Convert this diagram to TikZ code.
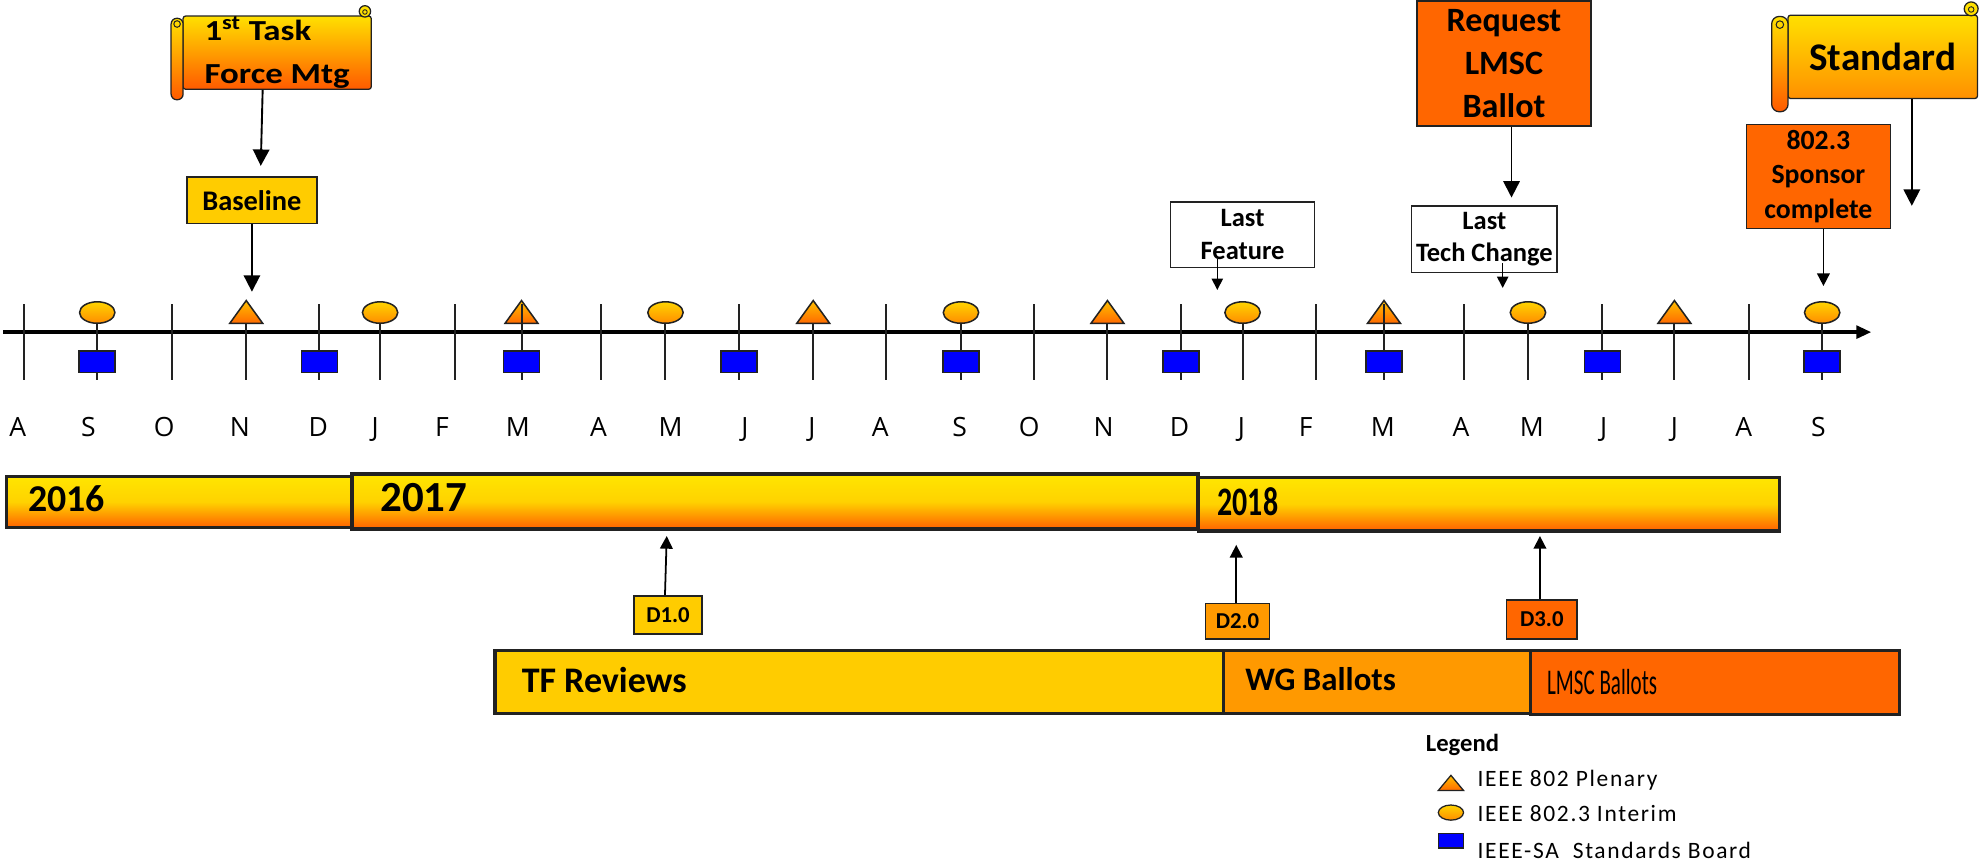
\documentclass[tikz,border=0pt]{standalone}
\usepackage{fontspec}
\usepackage{graphicx}
\setmainfont{Carlito}
\newfontfamily\monthfont{Open Sans}
\newfontfamily\legfont[LetterSpace=7]{Carlito}
\usetikzlibrary{arrows.meta}
\definecolor{gold}{HTML}{FFCC00}
\definecolor{orng}{HTML}{FF9900}
\definecolor{dorng}{HTML}{FF6600}
\definecolor{sqblue}{HTML}{0000FF}
\definecolor{edge}{HTML}{222222}
\definecolor{yelA}{HTML}{FFE600}
\definecolor{yelB}{HTML}{FFD200}
\definecolor{orA}{HTML}{FF6000}
\definecolor{circTop}{HTML}{FFD400}
\definecolor{circBot}{HTML}{FF8C00}
\definecolor{triTop}{HTML}{FFC000}
\definecolor{triBot}{HTML}{FF6A00}
\definecolor{scrTop}{HTML}{FFE000}
\definecolor{scrBotA}{HTML}{FF5A00}
\definecolor{scrBotB}{HTML}{FF9000}
\tikzset{
  fbox/.style={draw=edge, line width=1.3pt, inner sep=0pt, align=center},
  barbox/.style={draw=edge, line width=2.4pt, inner sep=0pt},
  ybar/.style={barbox, top color=yelA, bottom color=orA, middle color=yelB},
  bigarr/.style={line width=1.5pt, -{Triangle[length=13pt,width=13pt]}},
  midarr/.style={line width=1.4pt, -{Triangle[length=10pt,width=10pt]}},
  smlarr/.style={line width=1.2pt, -{Triangle[length=9pt,width=9pt]}},
  tickln/.style={line width=1.6pt, draw=edge},
  circsym/.style={draw=edge, line width=1.2pt, top color=circTop, bottom color=circBot},
  trisym/.style={draw=edge, line width=1.2pt, top color=triTop, bottom color=triBot},
  sqsym/.style={draw=edge, line width=1.4pt, fill=sqblue},
  txt/.style={inner sep=0pt},
}
\begin{document}
\begin{tikzpicture}[x=1pt,y=-1pt]
\useasboundingbox (0,0) rectangle (1568,683);

% ---------- timeline axis ----------
\coordinate (axL) at (2.6,263);
\coordinate (axR) at (1482,263);
\draw[line width=3pt, -{Triangle[length=12pt,width=10pt]}] (axL) -- (axR);

\foreach \x in {19,77,136,195,253,301,360,413,476,527,585,644,702,761,819,877,935,984,1042,1096,1159,1210,1269,1326,1385,1443}
  \draw[tickln] (\x,241) -- (\x,301);

% squares
\foreach \x in {77,253,413,585,761,935,1096,1269,1443}
  \draw[sqsym] (\x-14.25,278) rectangle (\x+14.25,295);
% circles
\foreach \x in {77,301,527,761,984,1210,1443}
  \shadedraw[circsym] (\x,247.5) ellipse (14pt and 8.5pt);
% triangles
\foreach \x in {195,413,644,877,1096,1326}
  \shadedraw[trisym] (\x-13,256) -- (\x,238) -- (\x+13,256) -- cycle;
% stems visible through the March triangles
\foreach \x in {413,1096}
  \draw[tickln] (\x,241) -- (\x,263);

% month labels
\foreach \x/\m [count=\i] in {14/A,70/S,130/O,190/N,252/D,297/J,350/F,410/M,474/A,531/M,590/J,643/J,697/A,760/S,815/O,874/N,934/D,983/J,1034/F,1095/M,1157/A,1213/M,1270/J,1326/J,1381/A,1440/S}
  \node[txt, anchor=base, font=\monthfont\fontsize{21}{21}\selectfont] (m\i) at (\x,345.5) {\m};

% ---------- year bars ----------
\node[ybar, minimum width=274pt, minimum height=41pt] (y16) at (142,397.5) {};
\node[ybar, minimum width=670pt, minimum height=43.5pt, line width=3pt] (y17) at (614,397.25) {};
\node[ybar, minimum width=460pt, minimum height=42.5pt] (y18) at (1179,399.25) {};
\node[txt, anchor=base west, font=\fontsize{30}{30}\selectfont\bfseries] (t16) at (22,405.3) {2016};
\node[txt, anchor=base west, font=\fontsize{34}{34}\selectfont\bfseries] (t17) at (301,405) {2017};
\node[txt, anchor=base west, font=\fontsize{32}{32}\selectfont\bfseries] (t18) at (964,408.6) {\scalebox{0.74}[1]{2018}};

% ---------- phase bars ----------
\node[barbox, fill=gold, minimum width=577pt, minimum height=50pt] (tf) at (680.5,540) {};
\node[barbox, fill=orng, minimum width=243pt, minimum height=50pt] (wg) at (1090.5,540) {};
\node[barbox, fill=dorng, minimum width=292pt, minimum height=50.5pt] (lm) at (1358,540.75) {};
\node[txt, anchor=base west, font=\fontsize{28.5}{28.5}\selectfont\bfseries] (ttf) at (413,548) {TF Reviews};
\node[txt, anchor=base west, font=\fontsize{26}{26}\selectfont\bfseries] (twg) at (986,546.5) {WG Ballots};
\node[txt, anchor=base west, font=\fontsize{28.7}{28.7}\selectfont] (tlm) at (1225,550) {\scalebox{0.58}[1]{LMSC Ballots}};

% ---------- draft boxes ----------
\node[fbox, fill=gold, minimum width=54pt, minimum height=30pt, font=\fontsize{18}{18}\selectfont\bfseries] (d1) at (529,487) {D1.0};
\node[fbox, fill=orng, minimum width=50.5pt, minimum height=28pt, font=\fontsize{18}{18}\selectfont\bfseries] (d2) at (980,492) {D2.0};
\node[fbox, fill=dorng, minimum width=56pt, minimum height=31pt, font=\fontsize{18}{18}\selectfont\bfseries] (d3) at (1221,490.5) {D3.0};
\coordinate (d1Tip) at (528,424.5);
\coordinate (d2Tip) at (979,431.5);
\coordinate (d3Tip) at (1219.5,424.5);
\draw[midarr] ([xshift=-2.4pt]d1.north) -- (d1Tip);
\draw[midarr] ([xshift=-1pt]d2.north) -- (d2Tip);
\draw[midarr] ([xshift=-1.5pt]d3.north) -- (d3Tip);

% ---------- 1st Task Force scroll ----------
\node[draw=edge, line width=1pt, rounded corners=2pt, top color=scrTop, bottom color=scrBotA,
      minimum width=149pt, minimum height=58pt, inner sep=0pt, align=left,
      font=\fontsize{23}{34}\selectfont\bfseries] (task) at (219.5,41.7)
  {\scalebox{1.2}[1]{1\textsuperscript{st} Task}\\\scalebox{1.2}[1]{Force Mtg}};
\shadedraw[draw=edge, line width=1pt, top color=scrTop, bottom color=scrBotA, rounded corners=4.5pt]
  (135.5,14.5) rectangle (145,79);
\draw[edge, line width=0.8pt] (140.25,19) circle (2.6pt);
\filldraw[fill=scrTop, draw=edge, line width=1pt] (289,9) circle (4.5pt);
\draw[edge, line width=0.7pt] (289,9.5) circle (1.8pt);

% Baseline
\node[fbox, fill=gold, minimum width=103pt, minimum height=37pt, font=\fontsize{22.5}{22.5}\selectfont\bfseries] (base) at (199.5,158.5) {Baseline};
\coordinate (triNtop) at (199.5,231);
\draw[bigarr] ([xshift=-11.5pt]task.south) -- ([xshift=7pt,yshift=8pt]base.north);
\draw[bigarr] (base.south) -- (triNtop);

% Last Feature
\node[fbox, fill=white, line width=1.1pt, minimum width=114pt, minimum height=52pt, font=\fontsize{21}{26}\selectfont\bfseries] (lf) at (984,186) {Last\\Feature};
\coordinate (lfTip) at (964,229.6);
\draw[smlarr] ([xshift=-20pt,yshift=7.4pt]lf.south) -- (lfTip);

% Request LMSC Ballot
\node[fbox, fill=dorng, minimum width=138pt, minimum height=99pt, font=\fontsize{27}{34}\selectfont\bfseries] (req) at (1191,50.5) {Request\\LMSC\\Ballot};
% Last Tech Change
\node[fbox, fill=white, line width=1.1pt, minimum width=115pt, minimum height=53pt, font=\fontsize{21}{25}\selectfont\bfseries] (ltc) at (1175.5,189.5) {Last\\Tech Change};
\draw[bigarr] ([xshift=6pt]req.south) -- ([xshift=21.5pt,yshift=6pt]ltc.north);
\coordinate (ltcTip) at (1190,228);
\draw[smlarr] ([xshift=14.5pt,yshift=8pt]ltc.south) -- (ltcTip);

% Standard scroll
\node[draw=edge, line width=1pt, rounded corners=2pt, top color=scrTop, bottom color=scrBotB,
      minimum width=150pt, minimum height=66pt, inner sep=0pt,
      font=\fontsize{31}{31}\selectfont\bfseries] (std) at (1491,45) {Standard};
\shadedraw[draw=edge, line width=1pt, top color=scrTop, bottom color=scrBotA, rounded corners=6pt]
  (1403,13) rectangle (1416,88.5);
\draw[edge, line width=0.8pt] (1409.5,19.5) circle (3pt);
\filldraw[fill=scrTop, draw=edge, line width=1pt] (1561,7) circle (5.5pt);
\draw[edge, line width=0.7pt] (1561,7.5) circle (2.2pt);
\coordinate (stdTip) at (1514,163);
\draw[bigarr] ([xshift=23pt]std.south) -- (stdTip);

% 802.3 Sponsor complete
\node[fbox, fill=dorng, minimum width=114pt, minimum height=82.5pt, font=\fontsize{22}{27.5}\selectfont\bfseries] (spon) at (1440,139.75) {802.3\\Sponsor\\complete};
\coordinate (sponTip) at (1444,226.5);
\draw[midarr] ([xshift=4pt]spon.south) -- (sponTip);

% ---------- legend ----------
\node[txt, anchor=base west, font=\fontsize{19.5}{19.5}\selectfont\bfseries] (leg) at (1129,595.3) {Legend};
\shadedraw[trisym, line width=1pt] (1139,626) -- (1149,614) -- (1159,626) -- cycle;
\shadedraw[circsym, line width=1pt] (1149,643.5) ellipse (10pt and 6pt);
\draw[sqsym, line width=1pt] (1139,660) rectangle (1159,671.5);
\node[txt, anchor=base west, font=\legfont\fontsize{18.6}{18.6}\selectfont] (l1) at (1170,623) {IEEE 802 Plenary};
\node[txt, anchor=base west, font=\legfont\fontsize{18.6}{18.6}\selectfont] (l2) at (1170,650.7) {IEEE 802.3 Interim};
\node[txt, anchor=base west, font=\legfont\fontsize{18.6}{18.6}\selectfont] (l3) at (1170,679.5) {IEEE-SA\ \ Standards Board};
\end{tikzpicture}
\end{document}
